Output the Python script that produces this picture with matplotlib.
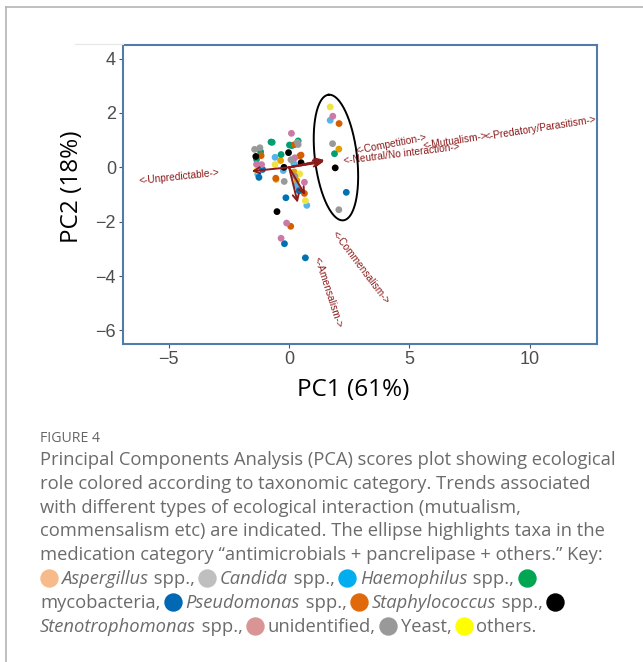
import numpy as np
import matplotlib.pyplot as plt
from matplotlib.lines import Line2D

plt.switch_backend('agg')

W, H = 643, 662

# PCA scores (PC1, PC2) and the taxonomic group of each point
pc1 = [1.71, 1.82, 1.71, 2.08, 1.81, 2.07, 1.89, 1.92, 2.38, 2.07,
       -1.43, -1.21, -1.18, -1.38, -1.16, -1.35, -1.35, -1.14, -1.33, -1.30, -1.25, -1.10,
       -0.75, -0.70, 0.10, 0.02, 0.12, 0.22, 0.35, 0.38, 0.38, -0.02, -0.33, -0.58,
       -0.35, -0.58, 0.08, 0.24, 0.45, 0.50, 0.50, 0.20, -0.21, -0.24, -0.55, -0.54,
       -0.20, 0.21, 0.44, 0.24, 0.32, 0.30, 0.64, 0.42, 0.64, 0.68, 0.74, -0.13,
       -0.50, -0.10, 0.07, -0.33, -0.19, 0.68]
pc2 = [2.22, 1.88, 1.73, 1.61, 0.87, 0.67, 0.50, -0.02, -0.92, -1.56,
       0.66, 0.72, 0.57, 0.40, 0.43, 0.29, 0.11, 0.10, -0.11, -0.25, -0.37, -0.08,
       0.93, 0.92, 1.25, 0.82, 0.80, 0.83, 0.92, 0.97, 0.84, 0.54, 0.47, 0.37,
       0.25, 0.10, 0.28, 0.35, 0.42, 0.45, 0.17, 0.14, 0.00, -0.12, -0.40, -0.44,
       -0.52, -0.17, -0.24, -0.32, -0.48, -0.67, -0.55, -0.86, -0.96, -1.23, -1.40, -1.12,
       -1.63, -2.05, -2.17, -2.61, -2.81, -3.33]
group = ['yellow', 'pink', 'skyblue', 'vermilion', 'gray', 'orange', 'green', 'black', 'blue', 'gray',
         'gray', 'gray', 'green', 'black', 'vermilion', 'green', 'pink', 'pink', 'yellow', 'skyblue', 'blue', 'blue',
         'green', 'green', 'pink', 'green', 'green', 'vermilion', 'gray', 'green', 'gray', 'black', 'green', 'skyblue',
         'orange', 'yellow', 'gray', 'pink', 'vermilion', 'vermilion', 'black', 'skyblue', 'black', 'skyblue', 'vermilion', 'orange',
         'gray', 'orange', 'yellow', 'gray', 'orange', 'skyblue', 'pink', 'blue', 'vermilion', 'yellow', 'skyblue', 'blue',
         'black', 'pink', 'vermilion', 'pink', 'blue', 'blue']
palette = {'orange': '#E69F00', 'skyblue': '#56B4E9', 'green': '#009E73', 'yellow': '#F0E442',
           'blue': '#0072B2', 'vermilion': '#D55E00', 'pink': '#CC79A7', 'gray': '#999999',
           'black': '#000000'}

# loading arrows and their labels
load_names = ['<-Unpredictable->', '<-Competition->', '<-Neutral/No interaction->',
              '<-Mutualism->', '<-Predatory/Parasitism->', '<-Commensalism->', '<-Amensalism->']
load_x = [-1.55, 1.40, 1.35, 1.45, 1.47, 0.67, 0.36]
load_y = [-0.14, 0.25, 0.19, 0.22, 0.27, -1.02, -1.30]
label_x = [-4.57, 4.25, 4.67, 6.92, 10.43, 2.96, 1.61]
label_y = [-0.36, 0.85, 0.50, 0.97, 1.42, -3.67, -4.59]
label_rot = [6, 11, 7, 9, 9, -53, -72]

# ellipse around the medication group
ell_center = (1.95, 0.36)
ell_major = (-0.31, 2.31)
ell_minor = (0.87, 0.09)

caption_title = 'FIGURE 4'
caption_lines = [
    'Principal Components Analysis (PCA) scores plot showing ecological',
    'role colored according to taxonomic category. Trends associated',
    'with different types of ecological interaction (mutualism,',
    'commensalism etc) are indicated. The ellipse highlights taxa in the',
    'medication category \u201cantimicrobials + pancrelipase + others.\u201d Key:',
]
key_lines = [
    [('dot', '#f7bb8b'), ('it', 'Aspergillus'), ('rm', ' spp.,'),
     ('dot', '#bfbfbf'), ('it', 'Candida'), ('rm', ' spp.,'),
     ('dot', '#00aeef'), ('it', 'Haemophilus'), ('rm', ' spp.,'),
     ('dot', '#00a651')],
    [('rm', 'mycobacteria,'), ('dot', '#0068b5'), ('it', 'Pseudomonas'), ('rm', ' spp.,'),
     ('dot', '#e0690b'), ('it', 'Staphylococcus'), ('rm', ' spp.,'), ('dot', '#000000')],
    [('it', 'Stenotrophomonas'), ('rm', ' spp.,'), ('dot', '#d99594'), ('rm', 'unidentified,'),
     ('dot', '#999999'), ('rm', 'Yeast,'), ('dot', '#ffff00'), ('rm', 'others.')],
]

fig = plt.figure(figsize=(W / 100, H / 100), dpi=100)
ax = fig.add_axes([123 / W, 1 - 344 / H, 474 / W, 299 / H])

for g in palette:
    xs = [x for x, gg in zip(pc1, group) if gg == g]
    ys = [y for y, gg in zip(pc2, group) if gg == g]
    ax.scatter(xs, ys, s=24, color=palette[g], edgecolors='none', zorder=3)

t = np.linspace(0, 2 * np.pi, 200)
ex = ell_center[0] + ell_major[0] * np.cos(t) + ell_minor[0] * np.sin(t)
ey = ell_center[1] + ell_major[1] * np.cos(t) + ell_minor[1] * np.sin(t)
ax.plot(ex, ey, color='black', lw=1.4, zorder=4)

arrow_col = '#8b1a1a'
for lx, ly in zip(load_x, load_y):
    ax.annotate('', xy=(lx, ly), xytext=(0, 0),
                arrowprops=dict(arrowstyle='->', color=arrow_col, lw=1.4,
                                mutation_scale=11, shrinkA=0, shrinkB=0), zorder=5)
for name, tx, ty, rot in zip(load_names, label_x, label_y, label_rot):
    ax.text(tx, ty, name, color=arrow_col, fontsize=7.3, family='Liberation Sans',
            rotation=rot, rotation_mode='anchor', ha='center', va='center')

ax.set_xlim(-6.9, 12.8)
ax.set_ylim(-6.5, 4.5)
ax.set_xticks([-5, 0, 5, 10])
ax.set_yticks([-6, -4, -2, 0, 2, 4])
ax.set_xticklabels(['\u22125', '0', '5', '10'])
ax.set_yticklabels(['\u22126', '\u22124', '\u22122', '0', '2', '4'])
for sp in ax.spines.values():
    sp.set_color('#4f7cac')
    sp.set_linewidth(1.5)
ax.tick_params(color='#555555', length=3, width=0.8, pad=2,
               labelsize=13, labelcolor='#4d4d4d')
for lab in ax.get_xticklabels() + ax.get_yticklabels():
    lab.set_family('Liberation Sans')

fig.text(353 / W, 1 - 390 / H, 'PC1 (61%)', fontsize=17.5, family='Open Sans',
         ha='center', va='center')
fig.text(72 / W, 1 - 187 / H, 'PC2 (18%)', fontsize=17.5, family='Open Sans',
         ha='center', va='center', rotation=90)

# page frame and faint panel line
fig.add_artist(Line2D([6 / W, 1], [1 - 7 / H, 1 - 7 / H], color='#b5b5b5', lw=1.2))
fig.add_artist(Line2D([6 / W, 6 / W], [0, 1 - 7 / H], color='#b5b5b5', lw=1.2))
fig.add_artist(Line2D([75 / W, 123 / W], [1 - 44 / H, 1 - 44 / H], color='#e6e6e6', lw=0.8))

cap_col = '#6b6b6b'
cap_font = 'Open Sans'
cap_size = 13.2
fig.text(40 / W, 1 - 442 / H, caption_title, fontsize=10.2, family=cap_font,
         color='#666666', va='baseline')
base = 465
for i, line in enumerate(caption_lines):
    fig.text(40 / W, 1 - (base + 23.8 * i) / H, line, fontsize=cap_size,
             family=cap_font, color=cap_col, va='baseline')

renderer = fig.canvas.get_renderer()
for j, pieces in enumerate(key_lines):
    yb = base + 23.8 * (5 + j)
    x = 40.0
    for kind, val in pieces:
        if kind == 'dot':
            r = 8.5
            if x > 41:
                x += 4
            fig.add_artist(Line2D([(x + r) / W], [1 - (yb - 6) / H], marker='o',
                                  markersize=2 * r * 0.72, color=val, lw=0))
            x += 2 * r + 4
        else:
            txt = fig.text(x / W, 1 - yb / H, val, fontsize=cap_size, family=cap_font,
                           color=cap_col, va='baseline',
                           style='italic' if kind == 'it' else 'normal')
            bb = txt.get_window_extent(renderer)
            x = bb.x1 + (1 if kind == 'it' else 0)

fig.savefig('out.png', dpi=100)
